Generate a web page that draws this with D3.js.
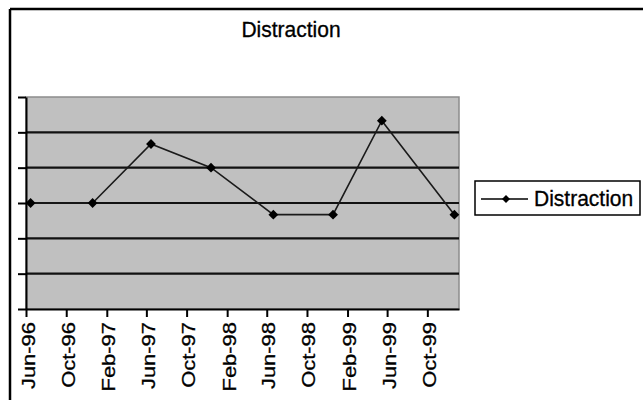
<!DOCTYPE html>
<html>
<head>
<meta charset="utf-8">
<script src="https://cdn.jsdelivr.net/npm/d3@7"></script>
<style>
  html, body { margin: 0; padding: 0; background: #fff; }
  svg { display: block; font-family: "Liberation Sans", Arial, sans-serif; }
</style>
</head>
<body>
<svg id="chart" width="643" height="400"></svg>
<script>
// ---- data ----
const seriesName = "Distraction";
const chartTitle = "Distraction";
const pointDates = ["1996-06-15", "1996-12-20", "1997-06-15", "1997-12-14", "1998-06-21", "1998-12-19", "1999-05-16", "1999-12-22"];
const pointValues = [3, 3, 4.67, 4, 2.67, 2.67, 5.33, 2.67];
const xTickLabels = ["Jun-96", "Oct-96", "Feb-97", "Jun-97", "Oct-97", "Feb-98", "Jun-98", "Oct-98", "Feb-99", "Jun-99", "Oct-99"];
const xDomain = ["1996-06-01", "2000-01-05"];
const yDomain = [0, 6];
const yTickValues = [0, 1, 2, 3, 4, 5, 6];

// ---- setup ----
const svg = d3.select("#chart");
const parseISO = d3.timeParse("%Y-%m-%d");
const parseTick = d3.timeParse("%b-%y");
const fmtTick = d3.timeFormat("%b-%y");

const plot = { left: 26, right: 459, top: 97, bottom: 309 };

const x = d3.scaleTime().domain(xDomain.map(parseISO)).range([plot.left, plot.right]);
const y = d3.scaleLinear().domain(yDomain).range([plot.bottom, plot.top]);

const data = pointDates.map((d, i) => ({ date: parseISO(d), value: pointValues[i] }));

// outer chart frame (top and left edges visible)
svg.append("line").attr("x1", 10).attr("x2", 643).attr("y1", 9).attr("y2", 9)
  .attr("stroke", "#000").attr("stroke-width", 2.5);
svg.append("line").attr("x1", 10).attr("x2", 10).attr("y1", 9).attr("y2", 400)
  .attr("stroke", "#000").attr("stroke-width", 2.5);

// plot area background
svg.append("rect")
  .attr("x", plot.left).attr("y", plot.top)
  .attr("width", plot.right - plot.left).attr("height", plot.bottom - plot.top)
  .attr("fill", "#c0c0c0").attr("stroke", "#8c8c8c").attr("stroke-width", 1.5);

// gridlines
svg.append("g").selectAll("line")
  .data(yTickValues.slice(1, -1))
  .join("line")
  .attr("x1", plot.left).attr("x2", plot.right)
  .attr("y1", d => y(d)).attr("y2", d => y(d))
  .attr("stroke", "#111").attr("stroke-width", 2.2);

// y axis
const yAxis = svg.append("g")
  .attr("transform", `translate(${plot.left},0)`)
  .call(d3.axisLeft(y).tickValues(yTickValues).tickSize(8).tickSizeOuter(0).tickFormat(""));
yAxis.select(".domain").attr("stroke", "#000").attr("stroke-width", 2);
yAxis.selectAll(".tick line").attr("stroke", "#000").attr("stroke-width", 2);

// x axis
const xAxis = svg.append("g")
  .attr("transform", `translate(0,${plot.bottom})`)
  .call(d3.axisBottom(x).tickValues(xTickLabels.map(parseTick)).tickFormat(fmtTick).tickSize(8).tickSizeOuter(0));
xAxis.select(".domain").attr("stroke", "#000").attr("stroke-width", 2);
xAxis.selectAll(".tick line").attr("stroke", "#000").attr("stroke-width", 2);
const sx = 1.22;
xAxis.selectAll(".tick text")
  .attr("font-size", 18)
  .attr("font-family", "\"Liberation Sans\", Arial, sans-serif")
  .attr("fill", "#000")
  .attr("stroke", "#000").attr("stroke-width", 0.3)
  .attr("text-anchor", "end")
  .attr("dy", null)
  .attr("x", -13 / sx)
  .attr("y", 8)
  .attr("transform", `rotate(-90) scale(${sx},1)`);

// line
const line = d3.line().x(d => x(d.date)).y(d => y(d.value));
svg.append("path")
  .datum(data)
  .attr("d", line)
  .attr("fill", "none")
  .attr("stroke", "#1a1a1a")
  .attr("stroke-width", 1.6);

// markers (rotated squares)
const marker = d3.symbol().type(d3.symbolSquare).size(48);
svg.append("g").selectAll("path")
  .data(data)
  .join("path")
  .attr("d", marker)
  .attr("transform", d => `translate(${x(d.date)},${y(d.value)}) rotate(45)`)
  .attr("fill", "#000");

// title
svg.append("text")
  .attr("transform", "translate(291,37) scale(1,1.08)")
  .attr("text-anchor", "middle")
  .attr("font-size", 21)
  .attr("fill", "#000")
  .attr("stroke", "#000").attr("stroke-width", 0.3)
  .text(chartTitle);

// legend
const lg = svg.append("g");
lg.append("rect").attr("x", 475).attr("y", 181).attr("width", 165).attr("height", 34)
  .attr("fill", "#fff").attr("stroke", "#000").attr("stroke-width", 1.5);
lg.append("line").attr("x1", 481).attr("x2", 528).attr("y1", 199).attr("y2", 199)
  .attr("stroke", "#000").attr("stroke-width", 1.6);
lg.append("path").attr("d", d3.symbol().type(d3.symbolSquare).size(32))
  .attr("transform", "translate(506,199) rotate(45)").attr("fill", "#000");
lg.append("text")
  .attr("transform", "translate(534,205.5) scale(1,1.08)")
  .attr("font-size", 21).attr("fill", "#000")
  .attr("stroke", "#000").attr("stroke-width", 0.3)
  .text(seriesName);
</script>
</body>
</html>
